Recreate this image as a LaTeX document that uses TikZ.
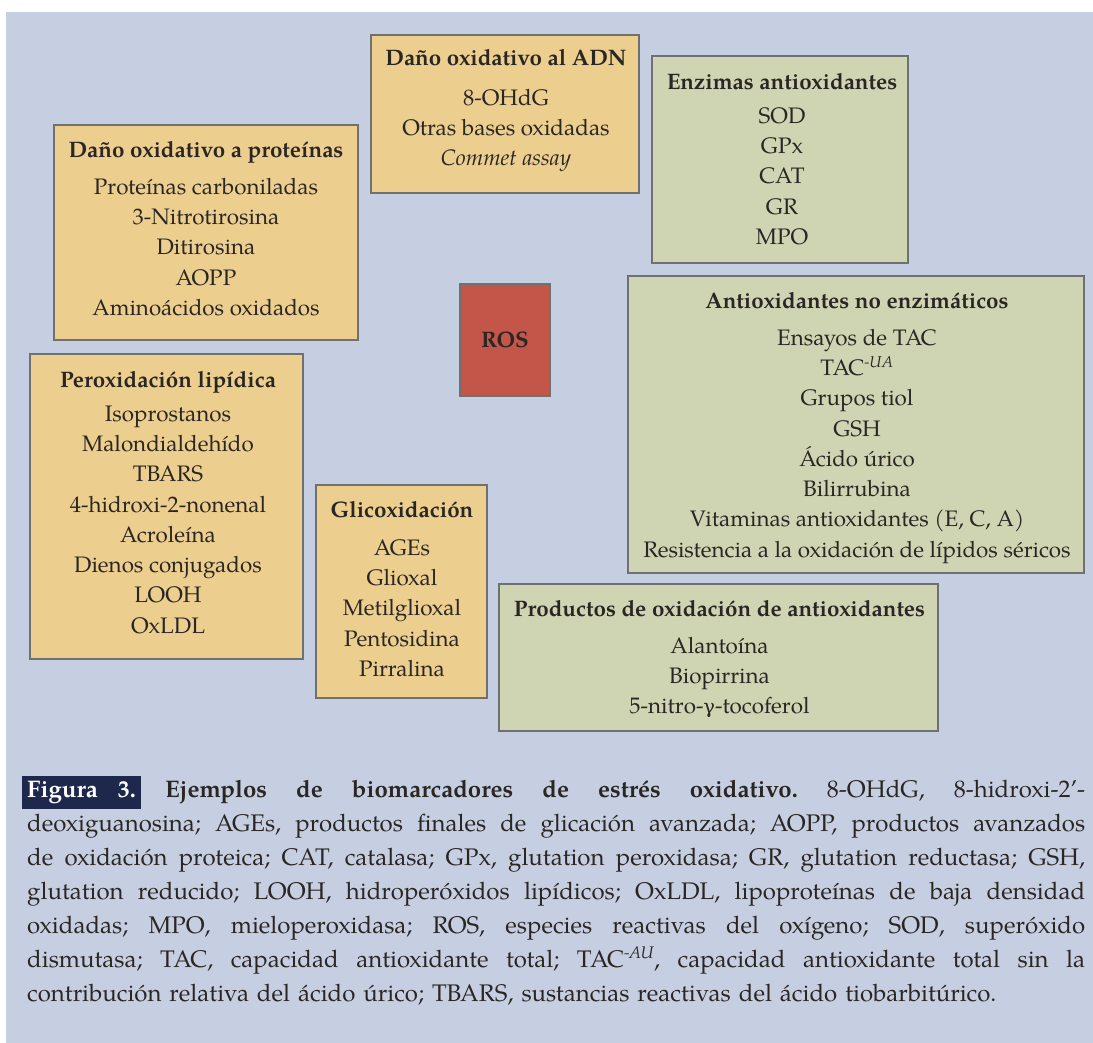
\documentclass[tikz,border=0pt]{standalone}
\usepackage{fontspec}
\setmainfont{TeX Gyre Pagella}
\newfontfamily\grk{DejaVu Serif}
\definecolor{bgblue}{RGB}{198,207,226}
\definecolor{sand}{RGB}{236,206,142}
\definecolor{sage}{RGB}{207,212,178}
\definecolor{rosred}{RGB}{196,86,73}
\definecolor{edge}{RGB}{112,112,112}
\definecolor{ink}{RGB}{42,38,36}
\definecolor{navy}{RGB}{30,40,76}
\tikzset{
  boxbase/.style={draw=edge, line width=1.8pt, inner sep=0pt, rectangle},
  ybox/.style={boxbase, fill=sand},
  gbox/.style={boxbase, fill=sage},
  rbox/.style={boxbase, fill=rosred},
  boxtext/.style={anchor=north, inner sep=0pt, align=center, text=ink,
    font={\fontsize{22.4}{30.3}\selectfont}},
}
\newcommand{\capline}[1]{\leavevmode\hbox to 1058pt{\spaceskip=0.25em plus 1fil minus 0.03em\relax #1}}
\begin{document}
\begin{tikzpicture}[x=1pt,y=-1pt]
\useasboundingbox (0,0) rectangle (1093,1043);
\fill[white] (0,0) rectangle (1093,1043);
\fill[bgblue] (6,12) rectangle (1093,1043);

% boxes
\node[ybox, minimum width=304pt, minimum height=215pt] (prot) at (206,232.5) {};
\node[ybox, minimum width=268pt, minimum height=158pt] (adn) at (505,114) {};
\node[gbox, minimum width=256pt, minimum height=207pt] (enz) at (780,159.5) {};
\node[rbox, minimum width=90pt, minimum height=112pt] (ros) at (505,340) {};
\node[gbox, minimum width=456pt, minimum height=297pt] (noenz) at (856,424.5) {};
\node[ybox, minimum width=273pt, minimum height=305pt] (perox) at (166.5,506.5) {};
\node[ybox, minimum width=171pt, minimum height=213pt] (glic) at (401.5,591.5) {};
\node[gbox, minimum width=439pt, minimum height=147pt] (prod) at (718.5,657.5) {};

% texts
\node[boxtext] (prott) at (206,141.5) {\textbf{Daño oxidativo a proteínas}\\[6pt]
  Proteínas carboniladas\\ 3-Nitrotirosina\\ Ditirosina\\ AOPP\\ Aminoácidos oxidados};
\node[boxtext] (adnt) at (506,49.5) {\textbf{Daño oxidativo al ADN}\\[9pt]
  8-OHdG\\ Otras bases oxidadas\\ \textit{Commet assay}};
\node[boxtext] (enzt) at (782,73.5) {\textbf{Enzimas antioxidantes}\\[3pt]
  SOD\\ GPx\\ CAT\\ GR\\ MPO};
\node[text=ink, inner sep=0pt, font={\fontsize{22.4}{26}\selectfont\bfseries}] (rost) at (ros.center) {ROS};
\node[boxtext] (noenzt) at (857,292.5) {\textbf{Antioxidantes no enzimáticos}\\[6pt]
  Ensayos de TAC\\ TAC\textsuperscript{\itshape -UA}\\ Grupos tiol\\ GSH\\ Ácido úrico\\ Bilirrubina\\
  Vitaminas antioxidantes (E, C, A)\\ Resistencia a la oxidación de lípidos séricos};
\node[boxtext] (peroxt) at (168,371.5) {\textbf{Peroxidación lipídica}\\[3pt]
  Isoprostanos\\ Malondialdehído\\ TBARS\\ 4-hidroxi-2-nonenal\\ Acroleína\\ Dienos conjugados\\ LOOH\\ OxLDL};
\node[boxtext] (glict) at (402,501.5) {\textbf{Glicoxidación}\\[7pt]
  AGEs\\ Glioxal\\ Metilglioxal\\ Pentosidina\\ Pirralina};
\node[boxtext] (prodt) at (719.5,600.5) {\textbf{Productos de oxidación de antioxidantes}\\[6pt]
  Alantoína\\ Biopirrina\\ 5-nitro-{\grk\fontsize{19.5}{22}\selectfont γ}-tocoferol};

% caption
\node[anchor=north west, inner sep=0pt, text width=1058pt, align=left, text=ink,
  font={\fontsize{24}{34}\selectfont\frenchspacing}] (caption) at (27,776) {%
  \setlength{\fboxsep}{5pt}%
  \capline{\hspace*{-5pt}\colorbox{navy}{\textcolor{white}{\textbf{Figura\hspace{20pt}3.}}}\hspace{-5pt} \textbf{Ejemplos de biomarcadores de estrés oxidativo.} 8-OHdG, 8-hidroxi-2’-}\\
  \capline{deoxiguanosina; AGEs, productos finales de glicación avanzada; AOPP, productos avanzados}\\
  \capline{de oxidación proteica; CAT, catalasa; GPx, glutation peroxidasa; GR, glutation reductasa; GSH,}\\
  \capline{glutation reducido; LOOH, hidroperóxidos lipídicos; OxLDL, lipoproteínas de baja densidad}\\
  \capline{oxidadas; MPO, mieloperoxidasa; ROS, especies reactivas del oxígeno; SOD, superóxido}\\
  \capline{dismutasa; TAC, capacidad antioxidante total; TAC\textsuperscript{\itshape -AU}, capacidad antioxidante total sin la}\\
  contribución relativa del ácido úrico; TBARS, sustancias reactivas del ácido tiobarbitúrico.};
\end{tikzpicture}
\end{document}
